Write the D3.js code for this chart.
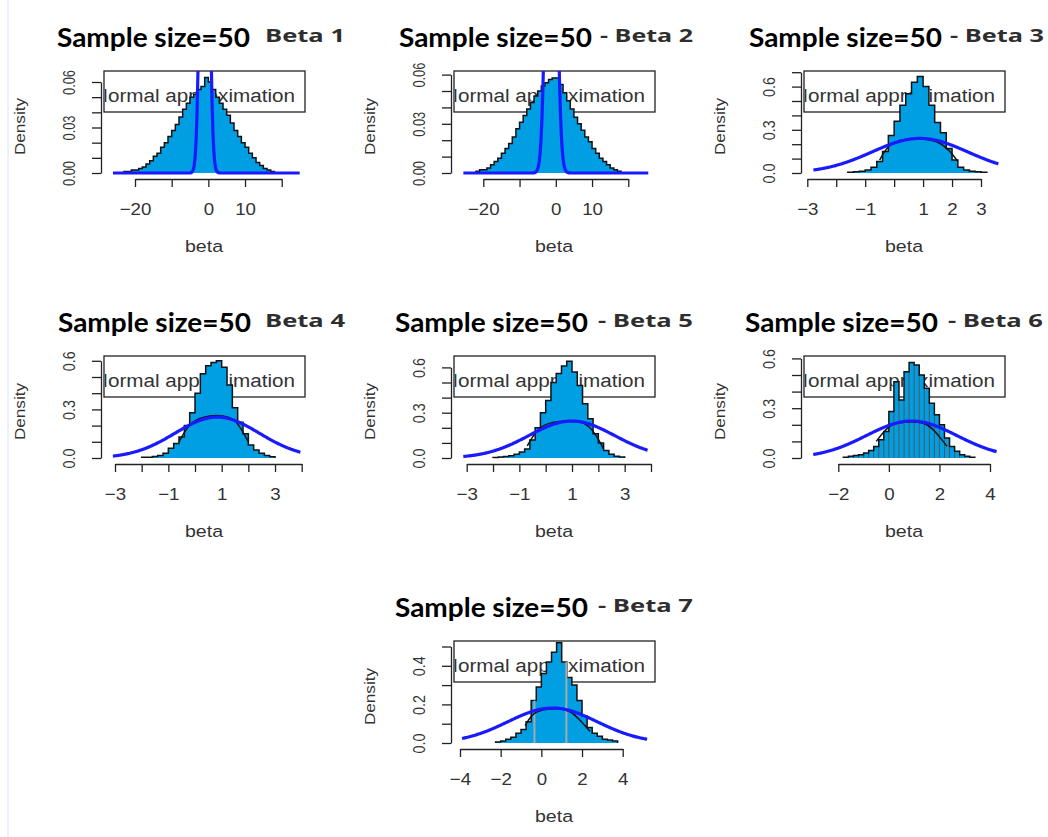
<!DOCTYPE html>
<html lang="en">
<head>
<meta charset="UTF-8">
<title>Sample size=50 - Beta histograms</title>
<style>
  body { margin: 0; padding: 0; background: #fff; overflow: hidden; }
  svg { display: block; }
  text { font-family: "Liberation Sans", Arial, sans-serif; fill: #333; }
</style>
</head>
<body>
<script src="https://d3js.org/d3.v7.min.js"></script>
<script>
// ---- data ----
const mainTitle = "Sample size=50";
const subTitles = ["Beta  1", "- Beta  2", "- Beta  3", "Beta  4", "- Beta  5", "- Beta  6", "- Beta  7"];
const legendLabel = "Normal approximation";
const xLabel = "beta";
const yLabel = "Density";

// histogram bins: first left edge and width, then the bar heights
const binStart = [-23, -22, -1.6, -2.0, -2.0, -1.8, -2.25];
const binWidth = [1, 1, 0.2, 0.2, 0.2, 0.2, 0.25];

const beta1Density = [0.001, 0.001, 0.002, 0.002, 0.003, 0.004, 0.006, 0.008, 0.011, 0.013,
  0.017, 0.020, 0.024, 0.028, 0.032, 0.037, 0.042, 0.046, 0.050, 0.052,
  0.055, 0.057, 0.063, 0.060, 0.055, 0.050, 0.046, 0.042, 0.038, 0.033,
  0.028, 0.024, 0.020, 0.017, 0.013, 0.010, 0.007, 0.005, 0.003, 0.002, 0.001];
const beta2Density = [0.001, 0.002, 0.002, 0.003, 0.005, 0.007, 0.009, 0.012, 0.015, 0.018,
  0.022, 0.027, 0.031, 0.035, 0.039, 0.043, 0.047, 0.050, 0.053, 0.055,
  0.057, 0.058, 0.058, 0.054, 0.049, 0.044, 0.039, 0.034, 0.030, 0.026,
  0.022, 0.019, 0.015, 0.012, 0.009, 0.007, 0.005, 0.003, 0.002, 0.001];
const beta3Density = [0.005, 0.008, 0.012, 0.02, 0.04, 0.08, 0.15, 0.26, 0.36, 0.47,
  0.55, 0.63, 0.67, 0.6, 0.47, 0.35, 0.28, 0.17, 0.09, 0.04, 0.02, 0.012, 0.008, 0.005];
const beta4Density = [0.005, 0.005, 0.01, 0.015, 0.03, 0.06, 0.09, 0.13, 0.2, 0.28,
  0.40, 0.52, 0.57, 0.59, 0.60, 0.56, 0.45, 0.31, 0.22, 0.15, 0.08, 0.05, 0.03, 0.015, 0.008];
const beta5Density = [0.004, 0.006, 0.01, 0.015, 0.025, 0.04, 0.06, 0.12, 0.2, 0.3,
  0.38, 0.5, 0.56, 0.61, 0.64, 0.57, 0.48, 0.36, 0.26, 0.16, 0.1, 0.05, 0.025, 0.012, 0.006];
const beta6Density = [0.005, 0.01, 0.015, 0.02, 0.03, 0.045, 0.07, 0.11, 0.16, 0.28,
  0.46, 0.35, 0.52, 0.576, 0.56, 0.50, 0.42, 0.33, 0.26, 0.2, 0.12, 0.07, 0.04, 0.02, 0.01, 0.005];
const beta7Density = [0.005, 0.01, 0.02, 0.03, 0.05, 0.07, 0.11, 0.22, 0.29, 0.36,
  0.42, 0.47, 0.52, 0.42, 0.34, 0.3, 0.22, 0.14, 0.08, 0.05, 0.035, 0.02, 0.015, 0.01];
const densities = [beta1Density, beta2Density, beta3Density, beta4Density, beta5Density, beta6Density, beta7Density];

// normal approximation (blue curve)
const normalMean = [-1.0, -1.24, 0.89, 0.83, 0.99, 0.9, 0.55];
const normalSd = [0.96, 1.2, 1.66, 1.58, 1.63, 1.79, 2.2];
const curveFrom = [-26, -25.5, -2.79, -3.08, -3.13, -2.99, -3.9];
const curveTo = [24.9, 25.5, 3.6, 3.95, 3.87, 4.26, 5.2];

// black arch under the blue curve
const ridgeLines = [
  [],
  [],
  [[-0.5, 0.09], [-0.2, 0.2], [0.3, 0.235], [0.9, 0.24], [1.5, 0.225], [1.9, 0.16], [2.2, 0.08]],
  [[-0.6, 0.10], [-0.2, 0.22], [0.3, 0.255], [0.8, 0.265], [1.3, 0.255], [1.6, 0.22], [2.0, 0.1]],
  [[-0.7, 0.08], [-0.3, 0.2], [0.2, 0.24], [0.9, 0.245], [1.5, 0.24], [1.9, 0.16], [2.2, 0.06]],
  [[-0.5, 0.1], [0.0, 0.2], [0.5, 0.215], [1.0, 0.22], [1.5, 0.21], [1.9, 0.15], [2.3, 0.07]],
  [[-0.8, 0.09], [-0.4, 0.16], [0.2, 0.175], [0.8, 0.18], [1.4, 0.17], [1.9, 0.12], [2.4, 0.06]]
];
const greyMarks = [[], [], [], [], [], [], [-0.34, 1.23]];

const xTicks = [
  [-20, -10, 0, 10, 20], [-20, -10, 0, 10, 20],
  [-3, -2, -1, 0, 1, 2, 3], [-3, -2, -1, 0, 1, 2, 3, 4], [-3, -2, -1, 0, 1, 2, 3, 4],
  [-2, 0, 2, 4], [-4, -2, 0, 2, 4]
];
const xTickLabels = [
  ["−20", "", "0", "10", ""], ["−20", "", "0", "10", ""],
  ["−3", "", "−1", "", "1", "2", "3"], ["−3", "", "−1", "", "1", "", "3", ""], ["−3", "", "−1", "", "1", "", "3", ""],
  ["−2", "0", "2", "4"], ["−4", "−2", "0", "2", "4"]
];
const yTicks = [
  [0, 0.01, 0.02, 0.03, 0.04, 0.05, 0.06], [0, 0.01, 0.02, 0.03, 0.04, 0.05, 0.06],
  [0, 0.1, 0.2, 0.3, 0.4, 0.5, 0.6, 0.7], [0, 0.1, 0.2, 0.3, 0.4, 0.5, 0.6],
  [0, 0.1, 0.2, 0.3, 0.4, 0.5, 0.6], [0, 0.1, 0.2, 0.3, 0.4, 0.5, 0.6], [0, 0.1, 0.2, 0.3, 0.4, 0.5]
];
const yTickLabels = [
  ["0.00", "", "", "0.03", "", "", "0.06"], ["0.00", "", "", "0.03", "", "", "0.06"],
  ["0.0", "", "", "0.3", "", "", "0.6", ""], ["0.0", "", "", "0.3", "", "", "0.6"],
  ["0.0", "", "", "0.3", "", "", "0.6"], ["0.0", "", "", "0.3", "", "", "0.6"], ["0.0", "", "0.2", "", "0.4", ""]
];

// ---- layout ----
const panelPos = [[0, 0], [350, 0], [700, 0], [0, 285], [350, 285], [700, 285], [350, 570]];
const xPx = [[135, 281.7], [133.3, 278.3], [107.3, 281], [115, 301.7], [116.7, 301], [138.3, 290], [110, 272.7]];
const yTopPx = [82, 74.6, 72.2, 75.8, 82.4, 73.4, 76.5];
const titleX = [[57, 265], [399, 600], [749, 950], [58, 265], [395, 598], [745, 948], [395, 598]];
const subLen = [80, 93, 94, 80, 95, 95, 95];
const barStroke = [null, null, null, null, null, "#555", null];

const fillColor = "#009fe3";
const curveColor = "#1a1aff";
const y0 = 173;

const svg = d3.select('body').append('svg')
  .attr('width', 1048)
  .attr('height', 837);

svg.append('line')
  .attr('x1', 8).attr('x2', 8).attr('y1', 0).attr('y2', 837)
  .attr('stroke', '#e4edf6').attr('stroke-width', 1.5);

densities.forEach((dens, i) => {
  const g = svg.append('g')
    .attr('transform', `translate(${panelPos[i][0]},${panelPos[i][1]})`);

  const xt = xTicks[i], yt = yTicks[i];
  const x = d3.scaleLinear().domain([xt[0], xt[xt.length - 1]]).range(xPx[i]);
  const y = d3.scaleLinear().domain([0, yt[yt.length - 1]]).range([y0, yTopPx[i]]);

  // clip paths
  const defs = g.append('defs');
  defs.append('clipPath').attr('id', 'plot' + i)
    .append('rect').attr('x', 100).attr('y', 71).attr('width', 210).attr('height', 115);
  defs.append('clipPath').attr('id', 'leg' + i)
    .append('rect').attr('x', 105).attr('y', 71).attr('width', 199).attr('height', 41);

  // titles
  g.append('text')
    .attr('x', titleX[i][0] - panelPos[i][0]).attr('y', 47)
    .attr('textLength', 193).attr('lengthAdjust', 'spacingAndGlyphs')
    .style('font-family', 'Lato, "Open Sans", sans-serif')
    .style('font-weight', 'bold').style('font-size', '26px').style('fill', '#000')
    .text(mainTitle);
  g.append('text')
    .attr('x', titleX[i][1] - panelPos[i][0]).attr('y', 42)
    .attr('textLength', subLen[i]).attr('lengthAdjust', 'spacingAndGlyphs')
    .style('font-family', '"Open Sans", sans-serif')
    .style('font-weight', 'bold').style('font-size', '18px').style('fill', '#2e2e2e')
    .text(subTitles[i]);

  // legend box (drawn first, histogram goes over it)
  g.append('rect')
    .attr('x', 104).attr('y', 71).attr('width', 201).attr('height', 41)
    .attr('fill', '#fff').attr('stroke', '#222').attr('stroke-width', 1.3);
  g.append('text')
    .attr('clip-path', `url(#leg${i})`)
    .attr('x', 93).attr('y', 102)
    .attr('textLength', 202).attr('lengthAdjust', 'spacingAndGlyphs')
    .style('font-size', '18px').style('fill', '#333')
    .text(legendLabel);

  // histogram
  const bars = dens.map((h, k) => ({
    x0: binStart[i] + k * binWidth[i],
    x1: binStart[i] + (k + 1) * binWidth[i],
    h: h
  }));
  const steps = [[bars[0].x0, 0]];
  bars.forEach(b => { steps.push([b.x0, b.h]); steps.push([b.x1, b.h]); });
  steps.push([bars[bars.length - 1].x1, 0]);

  g.append('path')
    .attr('d', d3.area().x(d => x(d[0])).y0(y0).y1(d => y(d[1]))(steps))
    .attr('fill', fillColor);

  if (barStroke[i]) {
    g.selectAll('line.edge')
      .data(bars.slice(1))
      .enter()
      .append('line')
      .attr('class', 'edge')
      .attr('x1', d => x(d.x0)).attr('x2', d => x(d.x0))
      .attr('y1', y0)
      .attr('y2', (d, k) => y(Math.min(d.h, bars[k].h)))
      .attr('stroke', barStroke[i]).attr('stroke-width', 1);
  }

  g.append('path')
    .attr('d', d3.line().x(d => x(d[0])).y(d => y(d[1]))(steps))
    .attr('fill', 'none').attr('stroke', '#111').attr('stroke-width', 1.5);

  // grey separators
  greyMarks[i].forEach(m => {
    const b = bars.find(b => m >= b.x0 && m < b.x1);
    g.append('line')
      .attr('x1', x(m)).attr('x2', x(m))
      .attr('y1', y0).attr('y2', y(b ? b.h : 0))
      .attr('stroke', '#a8a8a8').attr('stroke-width', 2);
  });

  // black arch
  if (ridgeLines[i].length) {
    g.append('path')
      .attr('d', d3.line().curve(d3.curveBasis).x(d => x(d[0])).y(d => y(d[1]))(ridgeLines[i]))
      .attr('fill', 'none').attr('stroke', '#111').attr('stroke-width', 1.5);
  }

  // normal approximation
  const mu = normalMean[i], sd = normalSd[i];
  const xs = d3.range(0, 201).map(k => curveFrom[i] + (curveTo[i] - curveFrom[i]) * k / 200);
  const pts = xs.map(v => [v, Math.exp(-0.5 * ((v - mu) / sd) ** 2) / (sd * Math.sqrt(2 * Math.PI))]);
  g.append('path')
    .attr('clip-path', `url(#plot${i})`)
    .attr('d', d3.line().x(d => x(d[0])).y(d => y(d[1]))(pts))
    .attr('fill', 'none').attr('stroke', curveColor).attr('stroke-width', 3.2);

  // x axis
  const xAxis = g.append('g')
    .attr('transform', 'translate(0,179)')
    .call(d3.axisBottom(x).tickValues(xt).tickFormat((v, k) => xTickLabels[i][k]).tickSize(8).tickSizeOuter(0));
  xAxis.selectAll('path, line').attr('stroke', '#222').attr('stroke-width', 1.3);
  xAxis.selectAll('text')
    .attr('y', 36).attr('dy', null)
    .attr('transform', 'scale(1.1,1)')
    .style('font-family', '"Liberation Sans", Arial, sans-serif')
    .style('font-size', '17px').style('fill', '#333');

  // y axis
  const yAxis = g.append('g')
    .attr('transform', 'translate(101,0)')
    .call(d3.axisLeft(y).tickValues(yt).tickFormat((v, k) => yTickLabels[i][k]).tickSize(9).tickSizeOuter(0));
  yAxis.selectAll('path, line').attr('stroke', '#222').attr('stroke-width', 1.3);
  yAxis.selectAll('text')
    .attr('x', null).attr('dy', null)
    .attr('transform', 'translate(-26,0) rotate(-90)')
    .attr('text-anchor', 'middle')
    .attr('textLength', function () { return this.textContent ? (this.textContent.length > 3 ? 25 : 20) : null; })
    .attr('lengthAdjust', 'spacingAndGlyphs')
    .style('font-family', '"Liberation Sans", Arial, sans-serif')
    .style('font-size', '17px').style('fill', '#333');

  // axis titles
  g.append('text')
    .attr('transform', 'translate(25,126.5) rotate(-90)')
    .attr('text-anchor', 'middle')
    .attr('textLength', 57).attr('lengthAdjust', 'spacingAndGlyphs')
    .style('font-size', '14px')
    .text(yLabel);
  g.append('text')
    .attr('transform', 'translate(204,252) scale(1.15,1)')
    .attr('text-anchor', 'middle')
    .style('font-size', '17px')
    .text(xLabel);
});
</script>
</body>
</html>
